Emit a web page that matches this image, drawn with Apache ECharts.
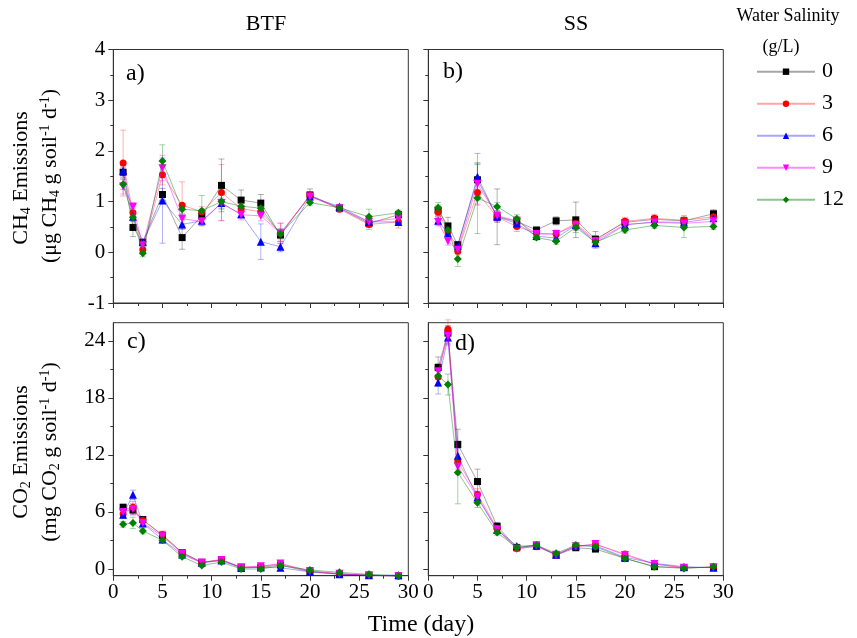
<!DOCTYPE html>
<html><head><meta charset="utf-8">
<script src="https://cdn.jsdelivr.net/npm/echarts@6/dist/echarts.min.js"></script>
<style>html,body{margin:0;padding:0;background:#fff}#c{width:857px;height:638px}</style>
</head><body><div id="c"></div>
<script>
// ---- data ----
const days = [1, 2, 3, 5, 7, 9, 11, 13, 15, 17, 20, 23, 26, 29];
const groupNames = ['0', '3', '6', '9', '12'];
const xTicks = [0, 5, 10, 15, 20, 25, 30];
const ch4Ticks = [-1, 0, 1, 2, 3, 4];
const co2Ticks = [0, 6, 12, 18, 24];

// CH4 BTF (panel a)
const a0  = [1.58, 0.49, 0.20, 1.14, 0.29, 0.72, 1.32, 1.03, 0.97, 0.34, 1.13, 0.87, 0.57, 0.74];
const a3  = [1.76, 0.78, 0.05, 1.53, 0.93, 0.80, 1.18, 0.86, 0.80, 0.375, 1.12, 0.85, 0.55, 0.60];
const a6  = [1.61, 0.70, 0.20, 1.02, 0.55, 0.62, 0.97, 0.75, 0.21, 0.11, 1.10, 0.90, 0.60, 0.60];
const a9  = [1.30, 0.90, 0.14, 1.66, 0.66, 0.61, 0.97, 0.74, 0.72, 0.375, 1.10, 0.87, 0.60, 0.67];
const a12 = [1.34, 0.69, -0.02, 1.80, 0.85, 0.82, 1.00, 0.91, 0.87, 0.36, 0.98, 0.88, 0.70, 0.78];
const ea0  = [0.10, 0.18, 0.05, 0.12, 0.23, 0.08, 0.52, 0.20, 0.17, 0.12, 0.12, 0.05, 0.08, 0.07];
const ea3  = [0.65, 0.08, 0.05, 0.20, 0.46, 0.10, 0.55, 0.10, 0.10, 0.20, 0.08, 0.05, 0.10, 0.12];
const ea6  = [0.10, 0.08, 0.05, 0.84, 0.10, 0.08, 0.10, 0.08, 0.35, 0.10, 0.06, 0.05, 0.05, 0.05];
const ea9  = [0.15, 0.08, 0.05, 0.25, 0.10, 0.08, 0.35, 0.10, 0.10, 0.20, 0.08, 0.05, 0.05, 0.05];
const ea12 = [0.10, 0.08, 0.07, 0.32, 0.10, 0.30, 0.15, 0.10, 0.10, 0.10, 0.06, 0.05, 0.15, 0.05];

// CH4 SS (panel b)
const b0  = [0.83, 0.52, 0.15, 1.43, 0.70, 0.61, 0.44, 0.62, 0.64, 0.26, 0.59, 0.65, 0.62, 0.76];
const b3  = [0.79, 0.41, 0.02, 1.18, 0.69, 0.51, 0.375, 0.36, 0.57, 0.24, 0.61, 0.67, 0.63, 0.70];
const b6  = [0.62, 0.375, 0.13, 1.49, 0.70, 0.57, 0.32, 0.28, 0.54, 0.18, 0.54, 0.60, 0.59, 0.67];
const b9  = [0.60, 0.22, 0.05, 1.35, 0.72, 0.62, 0.36, 0.36, 0.54, 0.22, 0.55, 0.59, 0.57, 0.61];
const b12 = [0.88, 0.44, -0.13, 1.07, 0.90, 0.66, 0.29, 0.22, 0.49, 0.20, 0.44, 0.53, 0.49, 0.51];
const eb0  = [0.10, 0.17, 0.05, 0.30, 0.55, 0.08, 0.05, 0.08, 0.35, 0.15, 0.06, 0.06, 0.10, 0.08];
const eb3  = [0.08, 0.08, 0.05, 0.25, 0.10, 0.10, 0.05, 0.08, 0.10, 0.08, 0.08, 0.08, 0.06, 0.06];
const eb6  = [0.08, 0.06, 0.05, 0.46, 0.10, 0.08, 0.05, 0.06, 0.10, 0.10, 0.06, 0.06, 0.05, 0.06];
const eb9  = [0.08, 0.08, 0.05, 0.40, 0.10, 0.08, 0.05, 0.06, 0.10, 0.08, 0.06, 0.06, 0.05, 0.06];
const eb12 = [0.10, 0.08, 0.15, 0.70, 0.08, 0.08, 0.05, 0.06, 0.10, 0.08, 0.06, 0.06, 0.20, 0.06];

// CO2 BTF (panel c)
const c0  = [6.5, 6.2, 5.2, 3.55, 1.74, 0.70, 0.94, 0.17, 0.17, 0.42, -0.28, -0.52, -0.66, -0.72];
const c3  = [5.8, 6.5, 5.1, 3.6, 1.74, 0.70, 1.01, 0.17, 0.28, 0.52, -0.22, -0.50, -0.66, -0.72];
const c6  = [5.7, 7.8, 4.8, 3.1, 1.53, 0.65, 0.90, 0.10, 0.17, 0.14, -0.31, -0.55, -0.66, -0.63];
const c9  = [6.0, 6.3, 4.85, 3.45, 1.64, 0.70, 0.94, 0.20, 0.30, 0.59, -0.20, -0.50, -0.66, -0.72];
const c12 = [4.7, 4.85, 4.0, 3.03, 1.29, 0.38, 0.73, 0.00, 0.00, 0.35, -0.10, -0.35, -0.56, -0.72];
const ec0  = [0.3, 0.5, 0.3, 0.3, 0.2, 0.15, 0.15, 0.1, 0.1, 0.15, 0.1, 0.1, 0.1, 0.1];
const ec3  = [0.4, 0.6, 0.3, 0.4, 0.2, 0.15, 0.15, 0.1, 0.1, 0.15, 0.1, 0.1, 0.1, 0.1];
const ec6  = [0.4, 0.5, 0.3, 0.3, 0.2, 0.15, 0.15, 0.1, 0.1, 0.15, 0.1, 0.1, 0.1, 0.1];
const ec9  = [0.4, 0.6, 0.3, 0.5, 0.2, 0.15, 0.15, 0.1, 0.1, 0.15, 0.1, 0.1, 0.1, 0.1];
const ec12 = [0.3, 0.6, 0.3, 0.3, 0.2, 0.15, 0.15, 0.1, 0.1, 0.15, 0.1, 0.1, 0.1, 0.1];

// CO2 SS (panel d)
const d0  = [21.2, 24.8, 13.1, 9.2, 4.5, 2.24, 2.52, 1.47, 2.24, 2.10, 1.12, 0.25, 0.14, 0.18];
const d3  = [20.2, 25.2, 11.3, 7.85, 4.27, 2.17, 2.35, 1.50, 2.35, 2.60, 1.58, 0.53, 0.14, 0.18];
const d6  = [19.6, 24.35, 11.9, 7.53, 4.10, 2.42, 2.45, 1.50, 2.45, 2.45, 1.23, 0.60, 0.25, 0.14];
const d9  = [20.8, 24.5, 10.76, 7.6, 4.17, 2.10, 2.45, 1.50, 2.40, 2.63, 1.47, 0.53, 0.14, 0.18];
const d12 = [20.3, 19.4, 10.16, 6.97, 3.85, 2.24, 2.52, 1.65, 2.52, 2.35, 1.12, 0.25, 0.07, 0.25];
const ed0  = [1.1, 0.8, 1.6, 1.3, 0.4, 0.2, 0.2, 0.1, 0.2, 0.2, 0.2, 0.1, 0.1, 0.1];
const ed3  = [0.8, 1.0, 0.8, 0.6, 0.3, 0.2, 0.2, 0.1, 0.2, 0.2, 0.2, 0.1, 0.1, 0.1];
const ed6  = [1.2, 0.8, 0.8, 0.6, 0.3, 0.2, 0.2, 0.1, 0.2, 0.2, 0.2, 0.1, 0.1, 0.1];
const ed9  = [0.8, 0.8, 0.8, 0.6, 0.3, 0.2, 0.2, 0.1, 0.2, 0.2, 0.2, 0.1, 0.1, 0.1];
const ed12 = [1.1, 1.1, 3.3, 0.5, 0.3, 0.2, 0.2, 0.1, 0.2, 0.2, 0.2, 0.1, 0.1, 0.1];

// ---- styling ----
const FONT = 'Liberation Serif';
const AX = '#333';
const markerShapes = ['rect', 'circle', 'triangle', 'triangle', 'diamond'];
const markerRot = [0, 0, 0, 180, 0];
const markerSize = [7, 7, 8, 8, 8];
const markColors = ['#000000', '#ff0000', '#0000ff', '#ff00ff', '#008000'];
const lineColors = ['rgba(0,0,0,0.35)', 'rgba(255,0,0,0.35)', 'rgba(0,0,255,0.35)', 'rgba(255,0,255,0.45)', 'rgba(0,128,0,0.45)'];
const errColors = ['rgba(0,0,0,0.3)', 'rgba(255,0,0,0.3)', 'rgba(0,0,255,0.3)', 'rgba(255,0,255,0.35)', 'rgba(0,128,0,0.35)'];

const panels = [
  { vals: [a0, a3, a6, a9, a12], errs: [ea0, ea3, ea6, ea9, ea12] },
  { vals: [b0, b3, b6, b9, b12], errs: [eb0, eb3, eb6, eb9, eb12] },
  { vals: [c0, c3, c6, c9, c12], errs: [ec0, ec3, ec6, ec9, ec12] },
  { vals: [d0, d3, d6, d9, d12], errs: [ed0, ed3, ed6, ed9, ed12] }
];

const gridPos = [
  { left: 113.3, top: 49.5, width: 295, height: 253.5 },
  { left: 428.3, top: 49.5, width: 295, height: 253.5 },
  { left: 113.3, top: 322.7, width: 295, height: 253 },
  { left: 428.3, top: 322.7, width: 295, height: 253 }
];

const grids = gridPos.map(g => Object.assign({ show: true, borderColor: AX, borderWidth: 1, backgroundColor: 'transparent', containLabel: false }, g));

const labelStyle = { fontFamily: FONT, fontSize: 21, color: '#000' };

const xAxes = gridPos.map((g, i) => ({
  type: 'value', gridIndex: i, min: 0, max: 30, interval: 5,
  axisLine: { show: true, onZero: false, lineStyle: { color: AX, width: 1 } },
  axisTick: { show: true, inside: false, length: 5, lineStyle: { color: AX } },
  minorTick: { show: true, splitNumber: 2, length: 3, lineStyle: { color: AX } },
  splitLine: { show: false },
  axisLabel: Object.assign({ show: i >= 2, margin: 6, customValues: xTicks }, labelStyle)
}));

const yAxes = [0, 1, 2, 3].map(i => {
  const isCH4 = i < 2;
  const base = {
    type: 'value', gridIndex: i,
    axisLine: { show: true, onZero: false, lineStyle: { color: AX, width: 1 } },
    splitLine: { show: false },
    axisLabel: Object.assign({ show: i === 0 || i === 2, margin: 8 }, labelStyle)
  };
  if (isCH4) {
    return Object.assign(base, {
      min: -1, max: 4, interval: 1,
      axisTick: { show: true, length: 5, lineStyle: { color: AX } },
      minorTick: { show: true, splitNumber: 2, length: 3, lineStyle: { color: AX } }
    });
  }
  base.axisLabel.customValues = co2Ticks;
  return Object.assign(base, {
    min: -0.7, max: 25.9,
    axisTick: { show: true, length: 5, customValues: co2Ticks, lineStyle: { color: AX } }
  });
});
// minor ticks for CO2 axes (3, 9, 15, 21)
const co2Minor = co2Ticks.slice(0, -1).map(v => v + 3);
[2, 3].forEach(i => {
  yAxes.push({
    type: 'value', gridIndex: i, min: -0.7, max: 25.9, position: 'left',
    axisLine: { show: false },
    axisTick: { show: true, length: 3, customValues: co2Minor, lineStyle: { color: AX } },
    axisLabel: { show: false },
    splitLine: { show: false }
  });
});

const series = [];
panels.forEach((p, pi) => {
  p.vals.forEach((v, gi) => {
    const e = p.errs[gi];
    series.push({
      type: 'custom', name: 'err' + groupNames[gi], xAxisIndex: pi, yAxisIndex: pi, silent: true,
      z: 1, clip: false,
      encode: { x: 0, y: [1, 2] },
      data: days.map((d, k) => [d, v[k] - e[k], v[k] + e[k]]),
      renderItem: (params, api) => {
        const lo = api.coord([api.value(0), api.value(1)]);
        const hi = api.coord([api.value(0), api.value(2)]);
        const w = 3;
        const st = { stroke: errColors[gi], lineWidth: 1 };
        return { type: 'group', children: [
          { type: 'line', shape: { x1: lo[0], y1: lo[1], x2: hi[0], y2: hi[1] }, style: st },
          { type: 'line', shape: { x1: lo[0] - w, y1: lo[1], x2: lo[0] + w, y2: lo[1] }, style: st },
          { type: 'line', shape: { x1: hi[0] - w, y1: hi[1], x2: hi[0] + w, y2: hi[1] }, style: st }
        ] };
      }
    });
  });
  p.vals.forEach((v, gi) => {
    series.push({
      type: 'line', name: groupNames[gi], xAxisIndex: pi, yAxisIndex: pi,
      data: days.map((d, k) => [d, v[k]]),
      symbol: markerShapes[gi], symbolRotate: markerRot[gi], symbolSize: markerSize[gi],
      showAllSymbol: true, clip: false, z: 2 + gi,
      lineStyle: { color: lineColors[gi], width: 1 },
      itemStyle: { color: markColors[gi], borderWidth: 0 },
      emphasis: { disabled: true }, animation: false
    });
  });
});

const sub = { fontFamily: FONT, fontSize: 14, lineHeight: 12, verticalAlign: 'bottom', fill: '#000' };
const sup = { fontFamily: FONT, fontSize: 14, lineHeight: 12, verticalAlign: 'top', fill: '#000' };
const nrm = { fontFamily: FONT, fontSize: 22, lineHeight: 24, fill: '#000' };
function vtext(x, y, text) {
  return { type: 'text', x: x, y: y, rotation: Math.PI / 2, silent: true,
    style: { text: text, align: 'center', verticalAlign: 'middle', rich: { n: nrm, sub: sub, sup: sup }, fill: '#000', font: '22px ' + FONT } };
}
function htext(x, y, text, size, align) {
  return { type: 'text', x: x, y: y, silent: true,
    style: { text: text, align: align || 'center', verticalAlign: 'middle', fill: '#000', fontFamily: FONT, fontSize: size } };
}

const option = {
  backgroundColor: '#fff',
  animation: false,
  grid: grids,
  xAxis: xAxes,
  yAxis: yAxes,
  legend: {
    data: groupNames, orient: 'vertical', left: 751, top: 55.7,
    itemWidth: 58, itemHeight: 8, itemGap: 10,
    textStyle: { fontFamily: FONT, fontSize: 22, lineHeight: 22, color: '#000', padding: [0, 0, 0, 2] },
    selectedMode: false
  },
  graphic: [
    htext(266, 24, 'BTF', 22),
    htext(576, 24, 'SS', 22),
    htext(421, 625, 'Time (day)', 24),
    htext(788, 16, 'Water Salinity', 18),
    htext(781, 47, '(g/L)', 18),
    htext(126, 74, 'a)', 24, 'left'),
    htext(443, 72, 'b)', 24, 'left'),
    htext(127, 342, 'c)', 24, 'left'),
    htext(455, 344, 'd)', 24, 'left'),
    vtext(21, 178, '{n|CH}{sub|4}{n| Emissions}'),
    vtext(50, 176, '{n|(μg CH}{sub|4}{n| g soil}{sup|-1}{n| d}{sup|-1}{n|)}'),
    vtext(21, 452, '{n|CO}{sub|2}{n| Emissions}'),
    vtext(50, 452, '{n|(mg CO}{sub|2}{n| g soil}{sup|-1}{n| d}{sup|-1}{n|)}')
  ],
  series: series
};

const chart = echarts.init(document.getElementById('c'), null, { renderer: 'canvas' });
chart.setOption(option);
</script>
</body></html>
